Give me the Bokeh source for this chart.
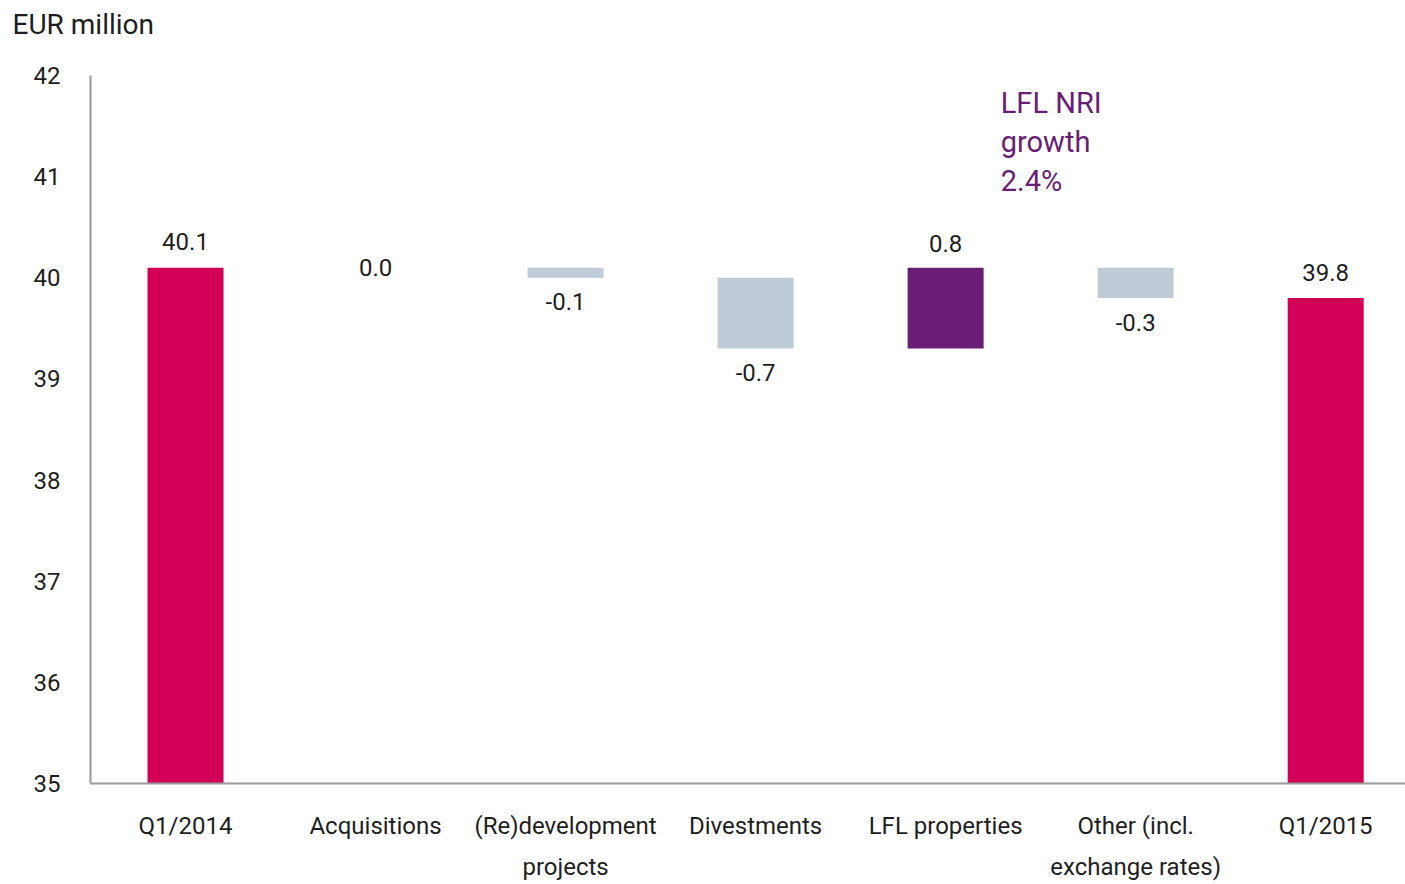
from bokeh.plotting import figure
from bokeh.models import Range1d, FixedTicker, ColumnDataSource, Title
from bokeh.embed import file_html
from bokeh.resources import INLINE
from bokeh.core.properties import value

# ---- data ----
categories = ["Q1/2014", "Acquisitions", "(Re)development\nprojects", "Divestments",
              "LFL properties", "Other (incl.\nexchange rates)", "Q1/2015"]
kinds = ["total", "delta", "delta", "delta", "delta", "delta", "total"]
values = [40.1, 0.0, -0.1, -0.7, 0.8, -0.3, 39.8]
y_ticks = [35, 36, 37, 38, 39, 40, 41, 42]
y_min, y_max = 35, 42
note_text = "LFL NRI\ngrowth\n2.4%"
unit_text = "EUR million"

# ---- styles ----
FONT = "Roboto"
TXT = "#1e1e1e"
C_TOTAL = "#D10056"
C_POS = "#6A1D74"
C_NEG = "#BFCBD7"
AX = "#9a9a9a"

# ---- waterfall geometry from data ----
xs, bottoms, tops, colors = [], [], [], []
lab_y, lab_off, lab_txt = [], [], []
running = 0.0
for i, (k, v) in enumerate(zip(kinds, values)):
    if k == "total":
        b, t = y_min, v
        running = v
        col = C_TOTAL
        ly, off = t, -26
    else:
        start = running
        end = round(running + v, 6)
        b, t = min(start, end), max(start, end)
        running = end
        if v > 0:
            col = C_POS
            ly, off = t, -24
        elif v < 0:
            col = C_NEG
            ly, off = b, 24
        else:
            col = C_NEG
            ly, off = t, 0
    xs.append(i)
    bottoms.append(b)
    tops.append(t)
    colors.append(col)
    lab_y.append(ly)
    lab_off.append(off)
    lab_txt.append(f"{v:.1f}")

src = ColumnDataSource(dict(x=xs, bottom=bottoms, top=tops, color=colors,
                            ly=lab_y, off=lab_off, txt=lab_txt))

p = figure(frame_width=1315, frame_height=708,
           x_range=Range1d(-0.5, 6.42), y_range=Range1d(y_min, y_max),
           min_border_left=90, min_border_right=0, min_border_top=75, min_border_bottom=60,
           toolbar_location=None, output_backend="svg",
           title=unit_text)

p.title.align = "left"
p.title.offset = -78
p.title.standoff = 0
p.title.text_font = FONT
p.title.text_font_size = "28px"
p.title.text_font_style = "normal"
p.title.text_color = TXT

# spacer between the unit caption and the plot frame
p.add_layout(Title(text=" ", text_font=FONT, text_font_size="28px", standoff=0), "above")

p.vbar(x="x", bottom="bottom", top="top", width=0.4, color="color",
       line_alpha=0, source=src)
p.text(x="x", y="ly", text="txt", y_offset="off", source=src,
       text_align="center", text_baseline="middle",
       text_font=value(FONT), text_font_size="24px", text_color=TXT)

p.text(x=[4.29], y=[41.90], text=[note_text], text_align="left", text_baseline="top",
       text_font=value(FONT), text_font_size="29px", text_color=C_POS,
       text_line_height=1.15)

# axes
p.xgrid.visible = False
p.ygrid.visible = False
p.outline_line_color = None

p.xaxis.ticker = FixedTicker(ticks=xs)
p.xaxis.major_label_overrides = {float(i): c for i, c in enumerate(categories)}
p.yaxis.ticker = FixedTicker(ticks=y_ticks)
for ax in (p.xaxis[0], p.yaxis[0]):
    ax.axis_line_color = AX
    ax.axis_line_width = 2
    ax.major_tick_line_color = None
    ax.minor_tick_line_color = None
    ax.major_label_text_font = FONT
    ax.major_label_text_font_size = "24px"
    ax.major_label_text_color = TXT
p.xaxis.major_label_standoff = 22
p.xaxis.major_label_text_line_height = 1.48
p.yaxis.major_label_standoff = 24

p.background_fill_color = "white"
p.border_fill_color = "white"

open("out.html", "w").write(file_html(p, INLINE))
